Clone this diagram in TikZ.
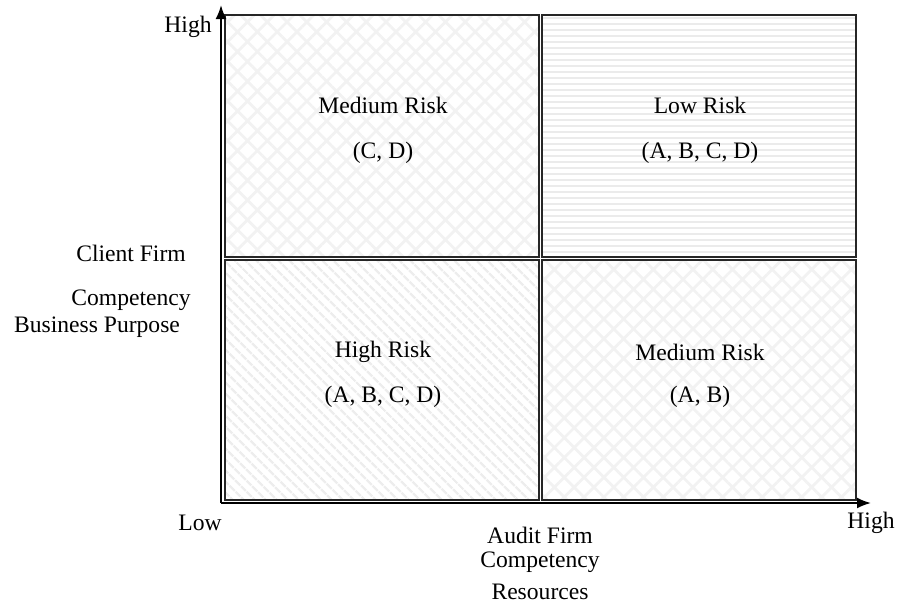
\documentclass[tikz,border=0pt]{standalone}
\usepackage{fontspec}
\setmainfont{Liberation Serif}
\usetikzlibrary{patterns.meta,arrows.meta}
\tikzset{
  quad/.style={draw=black!85, line width=1.3pt},
  lbl/.style={font=\fontsize{11.8}{14}\selectfont, inner sep=0pt},
  axis/.style={line width=1pt, -{Latex[length=7pt,width=5.5pt]}}
}
\begin{document}
\begin{tikzpicture}[x=0.5pt,y=-0.5pt]
  \useasboundingbox (0,0) rectangle (898,606);
  % quadrants
  \draw[quad, pattern={Hatch[angle=45,distance=7pt,line width=1.4pt]}, pattern color=black!5] (225,15) rectangle (539,257);
  \draw[quad, pattern={Lines[angle=0,distance=3pt,line width=1pt]}, pattern color=black!8] (542,15) rectangle (856,257);
  \draw[quad, pattern={Lines[angle=-45,distance=4pt,line width=1.3pt]}, pattern color=black!7] (225,260) rectangle (539,500);
  \draw[quad, pattern={Hatch[angle=45,distance=7pt,line width=1.4pt]}, pattern color=black!5] (542,260) rectangle (856,500);
  % axes
  \coordinate (origin) at (221,503);
  \coordinate (ytop) at (221,5);
  \coordinate (xend) at (871,503);
  \draw[axis] (origin) -- (ytop);
  \draw[axis] (origin) -- (xend);
  % quadrant texts
  \node[lbl] (tlrisk) at (383,105) {Medium Risk};
  \node[lbl] (tlset) at (383,153) {(C, D)};
  \node[lbl] (trrisk) at (700,105) {Low Risk};
  \node[lbl] (trset) at (700,153) {(A, B, C, D)};
  \node[lbl] (blrisk) at (383,352) {High Risk};
  \node[lbl] (blset) at (383,397) {(A, B, C, D)};
  \node[lbl] (brrisk) at (700,352) {Medium Risk};
  \node[lbl] (brset) at (700,397) {(A, B)};
  % axis labels
  \node[lbl] (yhigh) at (188,27) {High};
  \node[lbl] (xlow) at (200,523) {Low};
  \node[lbl] (xhigh) at (871,523) {High};
  \node[lbl] (client) at (131,253) {Client Firm};
  \node[lbl] (ccomp) at (131,300) {Competency};
  \node[lbl] (cpurp) at (97,327) {Business Purpose};
  \node[lbl] (audit) at (540,535) {Audit Firm};
  \node[lbl] (acomp) at (540,562) {Competency};
  \node[lbl] (ares) at (540,592) {Resources};
\end{tikzpicture}
\end{document}
